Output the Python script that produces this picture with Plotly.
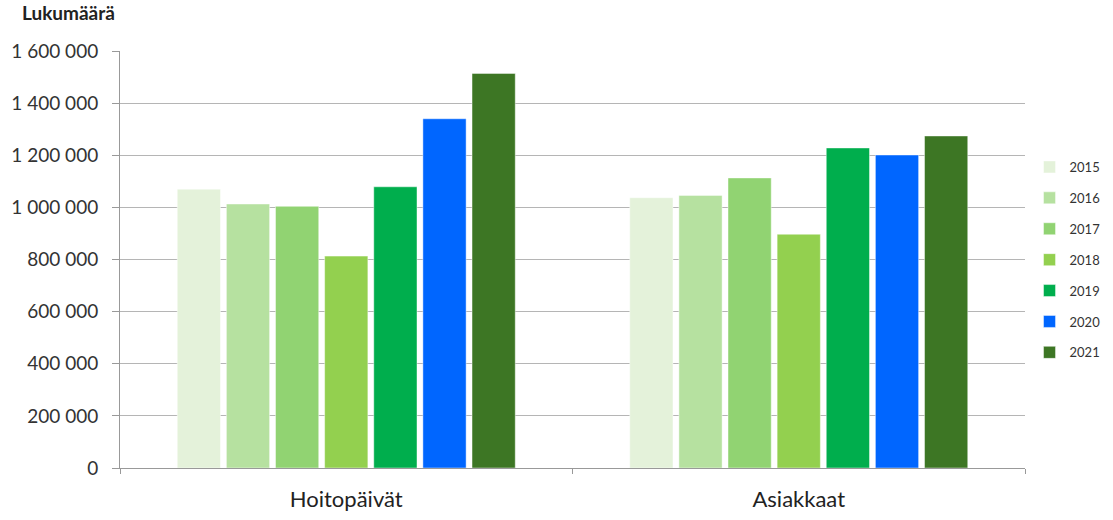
import plotly.graph_objects as go

categories = ["Hoitopäivät", "Asiakkaat"]
years = ["2015", "2016", "2017", "2018", "2019", "2020", "2021"]
values = {
    "2015": [1070000, 1037000],
    "2016": [1013000, 1046000],
    "2017": [1004000, 1113000],
    "2018": [813000, 897000],
    "2019": [1079000, 1228000],
    "2020": [1340000, 1201000],
    "2021": [1514000, 1274000],
}
colors = ["#e4f2da", "#b6e1a0", "#91d372", "#93d04f", "#00ae4d", "#0066ff", "#3d7624"]
y_ticks = [0, 200000, 400000, 600000, 800000, 1000000, 1200000, 1400000, 1600000]

fig = go.Figure()
for i, yr in enumerate(years):
    fig.add_trace(go.Bar(
        name=yr,
        x=categories,
        y=values[yr],
        marker=dict(color=colors[i], line=dict(color="rgba(255,255,255,0.45)", width=1)),
        legendgroup=yr,
    ))

fig.update_layout(
    width=1113,
    height=520,
    barmode="group",
    bargap=0.24,
    bargroupgap=0.12,
    separators=", ",
    paper_bgcolor="white",
    plot_bgcolor="white",
    margin=dict(l=120, r=88, t=51, b=52, autoexpand=False),
    font=dict(family="Lato, 'Open Sans', sans-serif", color="#333333"),
    legend=dict(
        xref="container", yref="container",
        x=0.925, xanchor="left", y=0.5, yanchor="middle",
        font=dict(size=13, color="#333333"),
        tracegroupgap=11,
        itemwidth=30,
    ),
    xaxis=dict(
        showline=True, linecolor="#999999", linewidth=1,
        ticks="outside", ticklen=5, tickcolor="#999999",
        tickson="boundaries",
        tickfont=dict(size=22, color="#222222"),
        ticklabelstandoff=12,
        showgrid=False,
    ),
    yaxis=dict(
        range=[0, 1600000],
        tickvals=y_ticks,
        tickformat=",d",
        showline=True, linecolor="#999999", linewidth=1,
        ticks="outside", ticklen=7, tickcolor="#999999",
        ticklabelstandoff=10,
        gridcolor="#b5b5b5", gridwidth=1,
        tickfont=dict(size=19, color="#333333"),
        zeroline=False,
    ),
    annotations=[dict(
        text="<b>Lukumäärä</b>",
        xref="paper", yref="paper",
        x=-0.11, y=1.06, xanchor="left", yanchor="bottom",
        showarrow=False,
        font=dict(size=19, color="#222222"),
    )],
)

fig.write_html("out.html")
